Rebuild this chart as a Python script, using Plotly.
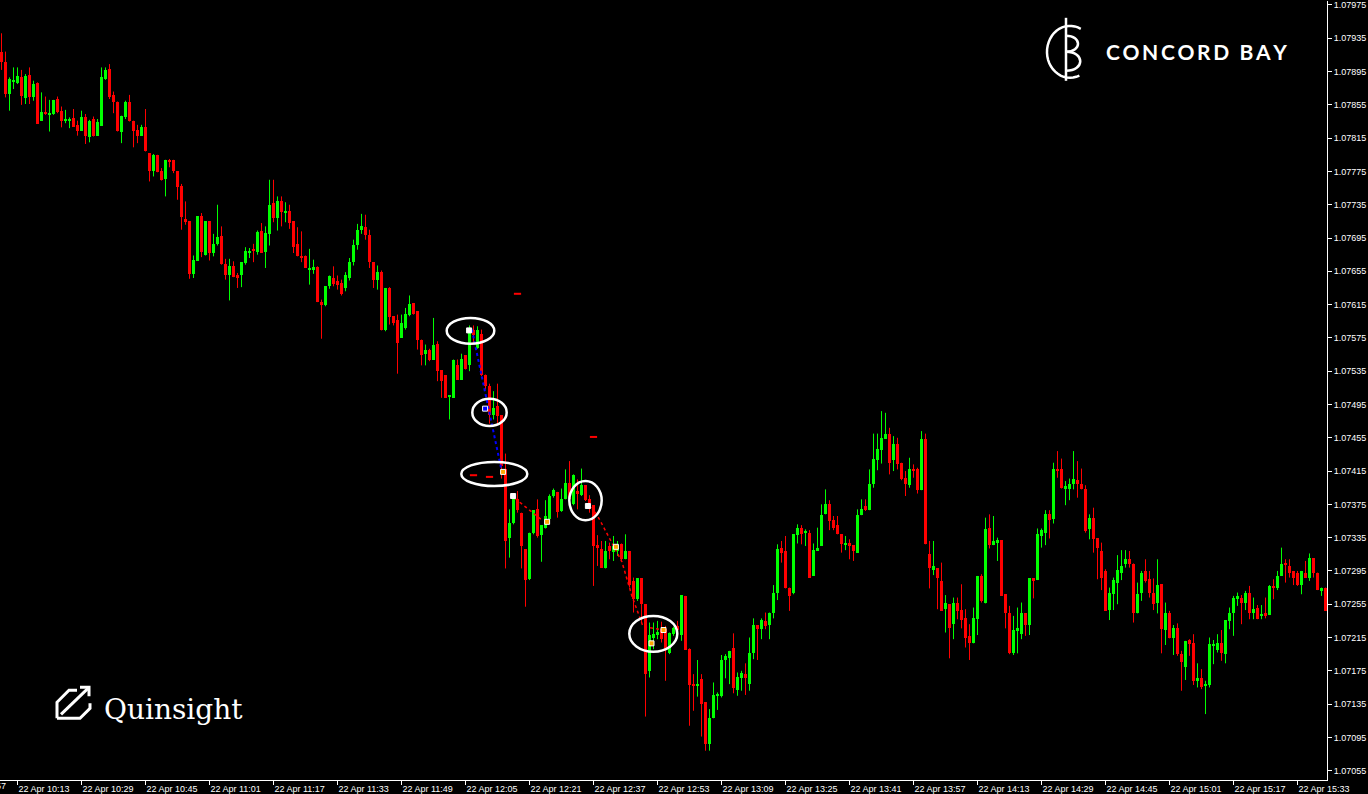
import plotly.graph_objects as go
import math

# ---------------- DATA: EURUSD M1, 22 Apr ----------------
open_ = [
    1.07918, 1.07906, 1.07868, 1.07883, 1.07881, 1.07889, 1.07863, 1.07891, 1.07865, 1.07881,
    1.07836, 1.07847, 1.07844, 1.07844, 1.07862, 1.07848, 1.07836, 1.07836, 1.07839, 1.07831,
    1.07824, 1.07840, 1.07816, 1.07838, 1.07818, 1.07830, 1.07886, 1.07898, 1.07867, 1.07858,
    1.07823, 1.07840, 1.07858, 1.07836, 1.07825, 1.07818, 1.07828, 1.07797, 1.07775, 1.07795,
    1.07775, 1.07766, 1.07789, 1.07789, 1.07775, 1.07757, 1.07718, 1.07715, 1.07652, 1.07668,
    1.07721, 1.07675, 1.07715, 1.07677, 1.07688, 1.07697, 1.07664, 1.07650, 1.07661, 1.07650,
    1.07650, 1.07665, 1.07678, 1.07682, 1.07678, 1.07704, 1.07678, 1.07700, 1.07737, 1.07719,
    1.07739, 1.07725, 1.07728, 1.07715, 1.07688, 1.07673, 1.07673, 1.07657, 1.07657, 1.07660,
    1.07618, 1.07614, 1.07637, 1.07647, 1.07643, 1.07641, 1.07635, 1.07647, 1.07666, 1.07687,
    1.07705, 1.07708, 1.07699, 1.07666, 1.07645, 1.07654, 1.07584, 1.07635, 1.07601, 1.07597,
    1.07575, 1.07587, 1.07603, 1.07617, 1.07607, 1.07573, 1.07556, 1.07561, 1.07549, 1.07568,
    1.07536, 1.07530, 1.07505, 1.07503, 1.07543, 1.07525, 1.07554, 1.07542, 1.07584, 1.07563,
    1.07580, 1.07530, 1.07517, 1.07482, 1.07493, 1.07482, 1.07418, 1.07334, 1.07353, 1.07381,
    1.07365, 1.07321, 1.07285, 1.07341, 1.07369, 1.07338, 1.07347, 1.07358, 1.07385, 1.07390,
    1.07367, 1.07382, 1.07401, 1.07375, 1.07391, 1.07386, 1.07398, 1.07381, 1.07374, 1.07326,
    1.07321, 1.07299, 1.07325, 1.07318, 1.07319, 1.07327, 1.07309, 1.07319, 1.07283, 1.07261,
    1.07286, 1.07255, 1.07175, 1.07215, 1.07218, 1.07225, 1.07225, 1.07197, 1.07219, 1.07229,
    1.07218, 1.07265, 1.07201, 1.07159, 1.07157, 1.07165, 1.07137, 1.07087, 1.07118, 1.07145,
    1.07145, 1.07188, 1.07190, 1.07203, 1.07152, 1.07166, 1.07171, 1.07159, 1.07196, 1.07230,
    1.07225, 1.07235, 1.07230, 1.07244, 1.07268, 1.07322, 1.07319, 1.07275, 1.07268, 1.07338,
    1.07347, 1.07341, 1.07341, 1.07289, 1.07319, 1.07325, 1.07363, 1.07376, 1.07356, 1.07350,
    1.07339, 1.07327, 1.07328, 1.07326, 1.07317, 1.07362, 1.07373, 1.07368, 1.07399, 1.07428,
    1.07440, 1.07454, 1.07460, 1.07428, 1.07448, 1.07425, 1.07407, 1.07398, 1.07418, 1.07418,
    1.07392, 1.07453, 1.07315, 1.07296, 1.07298, 1.07283, 1.07249, 1.07255, 1.07231, 1.07256,
    1.07248, 1.07238, 1.07217, 1.07209, 1.07237, 1.07289, 1.07257, 1.07346, 1.07326, 1.07328,
    1.07332, 1.07267, 1.07245, 1.07197, 1.07223, 1.07219, 1.07244, 1.07230, 1.07286, 1.07284,
    1.07337, 1.07341, 1.07364, 1.07358, 1.07418, 1.07417, 1.07394, 1.07394, 1.07399, 1.07404,
    1.07400, 1.07394, 1.07345, 1.07359, 1.07334, 1.07319, 1.07295, 1.07248, 1.07267, 1.07281,
    1.07293, 1.07303, 1.07309, 1.07303, 1.07245, 1.07268, 1.07295, 1.07285, 1.07268, 1.07256,
    1.07279, 1.07224, 1.07245, 1.07215, 1.07226, 1.07195, 1.07179, 1.07212, 1.07208, 1.07163,
    1.07166, 1.07157, 1.07158, 1.07205, 1.07200, 1.07208, 1.07195, 1.07235, 1.07244, 1.07261,
    1.07263, 1.07256, 1.07268, 1.07244, 1.07251, 1.07241, 1.07244, 1.07242, 1.07277, 1.07274,
    1.07289, 1.07305, 1.07301, 1.07295, 1.07293, 1.07278, 1.07293, 1.07287, 1.07310, 1.07293,
    1.07271, 1.07275,
]
high = [
    1.07941, 1.07919, 1.07888, 1.07900, 1.07900, 1.07897, 1.07892, 1.07900, 1.07884, 1.07882,
    1.07870, 1.07865, 1.07861, 1.07861, 1.07865, 1.07853, 1.07849, 1.07840, 1.07850, 1.07836,
    1.07848, 1.07844, 1.07837, 1.07841, 1.07838, 1.07900, 1.07900, 1.07904, 1.07871, 1.07859,
    1.07842, 1.07860, 1.07867, 1.07836, 1.07831, 1.07831, 1.07850, 1.07797, 1.07796, 1.07795,
    1.07779, 1.07789, 1.07790, 1.07789, 1.07775, 1.07760, 1.07739, 1.07715, 1.07674, 1.07721,
    1.07725, 1.07715, 1.07715, 1.07700, 1.07735, 1.07709, 1.07670, 1.07670, 1.07667, 1.07653,
    1.07666, 1.07684, 1.07683, 1.07688, 1.07704, 1.07713, 1.07709, 1.07765, 1.07765, 1.07745,
    1.07745, 1.07738, 1.07735, 1.07715, 1.07708, 1.07703, 1.07674, 1.07682, 1.07669, 1.07661,
    1.07621, 1.07637, 1.07650, 1.07661, 1.07650, 1.07645, 1.07654, 1.07671, 1.07693, 1.07712,
    1.07724, 1.07723, 1.07705, 1.07666, 1.07662, 1.07656, 1.07635, 1.07636, 1.07601, 1.07603,
    1.07603, 1.07611, 1.07626, 1.07617, 1.07607, 1.07573, 1.07567, 1.07562, 1.07599, 1.07571,
    1.07536, 1.07530, 1.07506, 1.07549, 1.07549, 1.07556, 1.07554, 1.07590, 1.07590, 1.07589,
    1.07585, 1.07531, 1.07520, 1.07511, 1.07520, 1.07482, 1.07436, 1.07369, 1.07386, 1.07391,
    1.07365, 1.07321, 1.07341, 1.07368, 1.07381, 1.07350, 1.07380, 1.07387, 1.07394, 1.07390,
    1.07394, 1.07417, 1.07427, 1.07411, 1.07405, 1.07418, 1.07398, 1.07386, 1.07374, 1.07338,
    1.07331, 1.07331, 1.07329, 1.07337, 1.07331, 1.07328, 1.07339, 1.07319, 1.07287, 1.07286,
    1.07286, 1.07255, 1.07233, 1.07233, 1.07235, 1.07234, 1.07229, 1.07221, 1.07228, 1.07235,
    1.07266, 1.07265, 1.07202, 1.07171, 1.07188, 1.07171, 1.07137, 1.07129, 1.07161, 1.07149,
    1.07194, 1.07195, 1.07199, 1.07220, 1.07173, 1.07175, 1.07184, 1.07215, 1.07238, 1.07230,
    1.07238, 1.07245, 1.07245, 1.07278, 1.07327, 1.07331, 1.07337, 1.07275, 1.07339, 1.07351,
    1.07350, 1.07345, 1.07344, 1.07328, 1.07347, 1.07375, 1.07393, 1.07380, 1.07361, 1.07361,
    1.07339, 1.07337, 1.07333, 1.07326, 1.07369, 1.07381, 1.07381, 1.07417, 1.07460, 1.07460,
    1.07487, 1.07485, 1.07467, 1.07457, 1.07455, 1.07425, 1.07415, 1.07431, 1.07423, 1.07419,
    1.07463, 1.07460, 1.07331, 1.07331, 1.07298, 1.07305, 1.07266, 1.07255, 1.07263, 1.07263,
    1.07279, 1.07249, 1.07231, 1.07251, 1.07289, 1.07291, 1.07359, 1.07363, 1.07361, 1.07335,
    1.07332, 1.07267, 1.07253, 1.07241, 1.07251, 1.07257, 1.07244, 1.07286, 1.07286, 1.07346,
    1.07346, 1.07368, 1.07368, 1.07425, 1.07439, 1.07430, 1.07403, 1.07406, 1.07439, 1.07427,
    1.07418, 1.07398, 1.07363, 1.07371, 1.07334, 1.07329, 1.07297, 1.07275, 1.07287, 1.07314,
    1.07320, 1.07320, 1.07319, 1.07304, 1.07281, 1.07295, 1.07309, 1.07295, 1.07286, 1.07309,
    1.07279, 1.07257, 1.07247, 1.07230, 1.07232, 1.07199, 1.07211, 1.07213, 1.07219, 1.07184,
    1.07177, 1.07163, 1.07215, 1.07212, 1.07219, 1.07224, 1.07236, 1.07251, 1.07265, 1.07269,
    1.07266, 1.07271, 1.07277, 1.07263, 1.07254, 1.07254, 1.07263, 1.07278, 1.07285, 1.07295,
    1.07323, 1.07309, 1.07309, 1.07295, 1.07295, 1.07295, 1.07307, 1.07316, 1.07310, 1.07293,
    1.07275, 1.07275,
]
low = [
    1.07897, 1.07864, 1.07848, 1.07874, 1.07880, 1.07855, 1.07856, 1.07856, 1.07860, 1.07832,
    1.07836, 1.07843, 1.07823, 1.07843, 1.07845, 1.07828, 1.07833, 1.07827, 1.07829, 1.07818,
    1.07824, 1.07808, 1.07810, 1.07817, 1.07818, 1.07830, 1.07885, 1.07862, 1.07845, 1.07823,
    1.07809, 1.07838, 1.07835, 1.07804, 1.07809, 1.07818, 1.07799, 1.07763, 1.07769, 1.07774,
    1.07764, 1.07745, 1.07780, 1.07773, 1.07741, 1.07705, 1.07711, 1.07646, 1.07647, 1.07668,
    1.07672, 1.07674, 1.07668, 1.07673, 1.07686, 1.07663, 1.07645, 1.07620, 1.07648, 1.07635,
    1.07636, 1.07663, 1.07671, 1.07666, 1.07675, 1.07677, 1.07659, 1.07686, 1.07714, 1.07704,
    1.07709, 1.07714, 1.07706, 1.07677, 1.07673, 1.07666, 1.07659, 1.07639, 1.07652, 1.07618,
    1.07574, 1.07613, 1.07634, 1.07637, 1.07633, 1.07626, 1.07631, 1.07644, 1.07662, 1.07681,
    1.07700, 1.07693, 1.07659, 1.07635, 1.07633, 1.07584, 1.07583, 1.07591, 1.07590, 1.07532,
    1.07575, 1.07585, 1.07601, 1.07603, 1.07561, 1.07542, 1.07542, 1.07547, 1.07549, 1.07523,
    1.07503, 1.07503, 1.07477, 1.07503, 1.07525, 1.07525, 1.07537, 1.07535, 1.07568, 1.07562,
    1.07529, 1.07513, 1.07472, 1.07477, 1.07472, 1.07406, 1.07298, 1.07311, 1.07351, 1.07365,
    1.07298, 1.07252, 1.07284, 1.07339, 1.07335, 1.07306, 1.07346, 1.07357, 1.07383, 1.07359,
    1.07366, 1.07381, 1.07381, 1.07374, 1.07369, 1.07385, 1.07379, 1.07365, 1.07277, 1.07301,
    1.07299, 1.07298, 1.07309, 1.07307, 1.07313, 1.07307, 1.07309, 1.07275, 1.07245, 1.07259,
    1.07233, 1.07120, 1.07167, 1.07201, 1.07213, 1.07209, 1.07163, 1.07195, 1.07217, 1.07217,
    1.07211, 1.07200, 1.07109, 1.07127, 1.07144, 1.07096, 1.07079, 1.07079, 1.07118, 1.07128,
    1.07143, 1.07166, 1.07159, 1.07148, 1.07145, 1.07151, 1.07146, 1.07151, 1.07189, 1.07188,
    1.07213, 1.07225, 1.07213, 1.07238, 1.07260, 1.07305, 1.07274, 1.07247, 1.07267, 1.07328,
    1.07327, 1.07325, 1.07287, 1.07289, 1.07319, 1.07325, 1.07363, 1.07344, 1.07344, 1.07339,
    1.07317, 1.07320, 1.07309, 1.07307, 1.07317, 1.07362, 1.07367, 1.07368, 1.07395, 1.07416,
    1.07424, 1.07454, 1.07411, 1.07415, 1.07417, 1.07404, 1.07385, 1.07395, 1.07407, 1.07388,
    1.07392, 1.07327, 1.07274, 1.07290, 1.07249, 1.07247, 1.07221, 1.07190, 1.07213, 1.07237,
    1.07226, 1.07203, 1.07188, 1.07208, 1.07218, 1.07257, 1.07256, 1.07322, 1.07326, 1.07307,
    1.07265, 1.07226, 1.07195, 1.07194, 1.07196, 1.07213, 1.07217, 1.07218, 1.07262, 1.07284,
    1.07323, 1.07326, 1.07334, 1.07352, 1.07407, 1.07394, 1.07374, 1.07380, 1.07393, 1.07383,
    1.07393, 1.07341, 1.07333, 1.07317, 1.07285, 1.07272, 1.07247, 1.07236, 1.07248, 1.07255,
    1.07284, 1.07299, 1.07299, 1.07233, 1.07244, 1.07259, 1.07281, 1.07263, 1.07248, 1.07244,
    1.07196, 1.07206, 1.07214, 1.07194, 1.07193, 1.07151, 1.07164, 1.07193, 1.07158, 1.07155,
    1.07153, 1.07123, 1.07155, 1.07183, 1.07197, 1.07187, 1.07184, 1.07225, 1.07217, 1.07253,
    1.07231, 1.07248, 1.07237, 1.07237, 1.07237, 1.07237, 1.07238, 1.07242, 1.07261, 1.07272,
    1.07289, 1.07281, 1.07287, 1.07278, 1.07277, 1.07267, 1.07287, 1.07283, 1.07287, 1.07272,
    1.07265, 1.07247,
]
close = [
    1.07906, 1.07868, 1.07886, 1.07884, 1.07890, 1.07866, 1.07890, 1.07865, 1.07880, 1.07832,
    1.07846, 1.07844, 1.07845, 1.07861, 1.07847, 1.07836, 1.07838, 1.07838, 1.07829, 1.07824,
    1.07840, 1.07817, 1.07836, 1.07817, 1.07835, 1.07888, 1.07897, 1.07865, 1.07858, 1.07824,
    1.07842, 1.07858, 1.07836, 1.07824, 1.07818, 1.07829, 1.07799, 1.07775, 1.07795, 1.07774,
    1.07765, 1.07789, 1.07786, 1.07775, 1.07756, 1.07720, 1.07714, 1.07652, 1.07669, 1.07721,
    1.07678, 1.07715, 1.07677, 1.07688, 1.07696, 1.07664, 1.07650, 1.07661, 1.07648, 1.07647,
    1.07666, 1.07679, 1.07680, 1.07679, 1.07702, 1.07677, 1.07701, 1.07735, 1.07719, 1.07739,
    1.07726, 1.07728, 1.07713, 1.07684, 1.07673, 1.07671, 1.07659, 1.07659, 1.07660, 1.07618,
    1.07614, 1.07637, 1.07649, 1.07640, 1.07638, 1.07628, 1.07650, 1.07666, 1.07687, 1.07705,
    1.07710, 1.07699, 1.07666, 1.07645, 1.07654, 1.07584, 1.07635, 1.07600, 1.07593, 1.07569,
    1.07593, 1.07604, 1.07616, 1.07604, 1.07573, 1.07555, 1.07561, 1.07548, 1.07567, 1.07535,
    1.07523, 1.07503, 1.07506, 1.07548, 1.07525, 1.07550, 1.07538, 1.07585, 1.07579, 1.07584,
    1.07530, 1.07517, 1.07482, 1.07491, 1.07481, 1.07421, 1.07331, 1.07353, 1.07381, 1.07368,
    1.07325, 1.07284, 1.07341, 1.07368, 1.07337, 1.07350, 1.07361, 1.07385, 1.07392, 1.07366,
    1.07381, 1.07401, 1.07381, 1.07410, 1.07387, 1.07398, 1.07380, 1.07369, 1.07325, 1.07322,
    1.07299, 1.07319, 1.07319, 1.07325, 1.07326, 1.07309, 1.07319, 1.07278, 1.07261, 1.07286,
    1.07255, 1.07171, 1.07218, 1.07219, 1.07222, 1.07213, 1.07201, 1.07220, 1.07226, 1.07224,
    1.07266, 1.07200, 1.07158, 1.07157, 1.07159, 1.07135, 1.07087, 1.07118, 1.07146, 1.07147,
    1.07188, 1.07193, 1.07199, 1.07154, 1.07167, 1.07172, 1.07166, 1.07197, 1.07230, 1.07225,
    1.07236, 1.07229, 1.07245, 1.07269, 1.07321, 1.07317, 1.07274, 1.07265, 1.07339, 1.07347,
    1.07339, 1.07343, 1.07287, 1.07320, 1.07323, 1.07362, 1.07375, 1.07355, 1.07347, 1.07339,
    1.07327, 1.07328, 1.07325, 1.07319, 1.07362, 1.07370, 1.07368, 1.07399, 1.07430, 1.07442,
    1.07455, 1.07460, 1.07425, 1.07448, 1.07423, 1.07405, 1.07399, 1.07418, 1.07416, 1.07392,
    1.07453, 1.07327, 1.07298, 1.07301, 1.07286, 1.07247, 1.07256, 1.07226, 1.07256, 1.07247,
    1.07236, 1.07214, 1.07208, 1.07239, 1.07289, 1.07259, 1.07345, 1.07326, 1.07331, 1.07332,
    1.07265, 1.07245, 1.07197, 1.07224, 1.07226, 1.07244, 1.07230, 1.07286, 1.07284, 1.07339,
    1.07344, 1.07364, 1.07356, 1.07418, 1.07416, 1.07395, 1.07397, 1.07400, 1.07405, 1.07399,
    1.07394, 1.07343, 1.07359, 1.07333, 1.07323, 1.07287, 1.07247, 1.07268, 1.07284, 1.07296,
    1.07301, 1.07309, 1.07303, 1.07244, 1.07267, 1.07293, 1.07283, 1.07268, 1.07255, 1.07278,
    1.07225, 1.07245, 1.07214, 1.07226, 1.07195, 1.07185, 1.07211, 1.07207, 1.07163, 1.07166,
    1.07155, 1.07159, 1.07207, 1.07206, 1.07208, 1.07196, 1.07236, 1.07244, 1.07263, 1.07265,
    1.07256, 1.07269, 1.07244, 1.07249, 1.07237, 1.07242, 1.07241, 1.07277, 1.07274, 1.07289,
    1.07303, 1.07302, 1.07293, 1.07287, 1.07278, 1.07295, 1.07287, 1.07310, 1.07292, 1.07272,
    1.07275, 1.07247,
]

time_tick_idx = [4, 20, 36, 52, 68, 84, 100, 116, 132, 148, 164,
                 180, 196, 212, 228, 244, 260, 276, 292, 308, 324]
time_tick_labels = [
    "22 Apr 10:13", "22 Apr 10:29", "22 Apr 10:45", "22 Apr 11:01", "22 Apr 11:17",
    "22 Apr 11:33", "22 Apr 11:49", "22 Apr 12:05", "22 Apr 12:21", "22 Apr 12:37",
    "22 Apr 12:53", "22 Apr 13:09", "22 Apr 13:25", "22 Apr 13:41", "22 Apr 13:57",
    "22 Apr 14:13", "22 Apr 14:29", "22 Apr 14:45", "22 Apr 15:01", "22 Apr 15:17",
    "22 Apr 15:33",
]
prev_time_label = "22 Apr 09:57"

price_ticks = [1.07055, 1.07095, 1.07135, 1.07175, 1.07215, 1.07255, 1.07295, 1.07335,
               1.07375, 1.07415, 1.07455, 1.07495, 1.07535, 1.07575, 1.07615, 1.07655,
               1.07695, 1.07735, 1.07775, 1.07815, 1.07855, 1.07895, 1.07935, 1.07975]
price_tick_labels = ["1.07055", "1.07095", "1.07135", "1.07175", "1.07215", "1.07255",
                     "1.07295", "1.07335", "1.07375", "1.07415", "1.07455", "1.07495",
                     "1.07535", "1.07575", "1.07615", "1.07655", "1.07695", "1.07735",
                     "1.07775", "1.07815", "1.07855", "1.07895", "1.07935", "1.07975"]

# trade overlay lines (candle index, price)
blue_path_x = [117.6, 121.0, 125.1]
blue_path_y = [1.07585, 1.07508, 1.07414]
red_path1_x = [128.4, 135.4]
red_path1_y = [1.07382, 1.07355]
red_path2_x = [147.6, 149.6, 155.1, 157.6, 160.4, 165.4]
red_path2_y = [1.07372, 1.07356, 1.07306, 1.07265, 1.07228, 1.07224]
# short red level dashes: (x start, x end, price)
level_x0 = [128.1, 147.1, 117.1, 121.1]
level_x1 = [129.9, 148.9, 118.9, 122.9]
level_y = [1.07628, 1.07456, 1.07410, 1.07408]
# highlight ellipses (x0, x1, y0, y1)
ell_x0 = [111.3, 117.7, 114.95, 141.95, 156.95]
ell_x1 = [123.2, 126.3, 131.45, 150.05, 168.95]
ell_y0 = [1.07568, 1.07469, 1.07397, 1.07356, 1.07198]
ell_y1 = [1.07599, 1.07502, 1.07426, 1.07403, 1.07241]
# trade arrows
mark_x = [116.9, 120.9, 125.4, 127.9, 136.4, 146.6, 153.6, 162.5, 165.5]
mark_y = [1.07584, 1.07490, 1.07414, 1.07385, 1.07354, 1.07373, 1.07324, 1.07208, 1.07224]
mark_c = ["#FFFFFF", "#0000FF", "#FFA500", "#FFFFFF", "#FFA500", "#FFFFFF",
          "#FFA500", "#FFA500", "#FFA500"]

GREEN = "#00FF00"
RED = "#FF0000"
MIN_BODY = 0.000012

fig = go.Figure()

for col, up in ((GREEN, True), (RED, False)):
    wx, wy, bx, bb, bh = [], [], [], [], []
    for i in range(len(open_)):
        o, h, l, c = open_[i], high[i], low[i], close[i]
        if (c >= o) != up:
            continue
        wx += [i, i, None]
        wy += [l, h, None]
        bx.append(i)
        bb.append(min(o, c))
        bh.append(max(abs(c - o), MIN_BODY))
    fig.add_trace(go.Scatter(x=wx, y=wy, mode="lines",
                             line=dict(color=col, width=1), hoverinfo="skip"))
    fig.add_trace(go.Bar(x=bx, y=bh, base=bb, width=0.75,
                         marker=dict(color=col, line=dict(width=0)), hoverinfo="skip"))

# overlays
fig.add_trace(go.Scatter(x=blue_path_x, y=blue_path_y, mode="lines",
                         line=dict(color="#0000FF", width=2, dash="dot"), hoverinfo="skip"))
for px_, py_ in ((red_path1_x, red_path1_y), (red_path2_x, red_path2_y)):
    fig.add_trace(go.Scatter(x=px_, y=py_, mode="lines",
                             line=dict(color=RED, width=1.5, dash="dot"), hoverinfo="skip"))
lx, ly = [], []
for a, b, y in zip(level_x0, level_x1, level_y):
    lx += [a, b, None]
    ly += [y, y, None]
fig.add_trace(go.Scatter(x=lx, y=ly, mode="lines", line=dict(color=RED, width=2),
                         hoverinfo="skip"))
fig.add_trace(go.Scatter(x=mark_x, y=mark_y, mode="markers",
                         marker=dict(symbol="square", size=5, color=mark_c,
                                     line=dict(color="#FFFFFF", width=1)),
                         hoverinfo="skip"))

shapes = []
for a, b, c, d in zip(ell_x0, ell_x1, ell_y0, ell_y1):
    shapes.append(dict(type="circle", xref="x", yref="y", x0=a, x1=b, y0=c, y1=d,
                       line=dict(color="#FFFFFF", width=2.5), layer="above"))

PLOT_W, PLOT_H = 1327, 782


def paper_x(px):
    return px / PLOT_W


def paper_y(py):
    return (PLOT_H - py) / PLOT_H


# Concord Bay logo mark
arc_pts = []
for deg in range(62, 300, 8):
    a = math.radians(deg)
    arc_pts.append((4 + 23 * math.cos(a), 26 * math.sin(a)))
arc_path = "M " + " L ".join(f"{x:.1f},{y:.1f}" for x, y in arc_pts)
logo_paths = [
    arc_path,
    "M 0,34 L 0,-29",
    "M 0,16 C 16,16 16,0 0,0",
    "M 0,0 C 19,0 19,-19 0,-19",
]
for p in logo_paths:
    shapes.append(dict(type="path", xref="paper", yref="paper", xsizemode="pixel",
                       ysizemode="pixel", xanchor=paper_x(1066), yanchor=paper_y(51),
                       path=p, line=dict(color="#FFFFFF", width=2.5), layer="above"))
# Quinsight icon
q_paths = [
    "M -17,-16 L -17,0 L -5,12 L 3,12",
    "M 16,-1 L 16,-6 L 6,-16 L -17,-16",
    "M -13,-12 L 14,14",
    "M 6,15 L 15,15 L 15,6",
]
for p in q_paths:
    shapes.append(dict(type="path", xref="paper", yref="paper", xsizemode="pixel",
                       ysizemode="pixel", xanchor=paper_x(74), yanchor=paper_y(704),
                       path=p, line=dict(color="#FFFFFF", width=3), layer="above"))

annotations = [
    dict(text="C\u2009O\u2009N\u2009C\u2009O\u2009R\u2009D\u2002B\u2009A\u2009Y",
         xref="paper", yref="paper", x=paper_x(1104), y=paper_y(51),
         xanchor="left", yanchor="middle", showarrow=False,
         font=dict(family="Lato", size=21, color="#FFFFFF", weight="bold")),
    dict(text="Quinsight", xref="paper", yref="paper", x=paper_x(102), y=paper_y(711),
         xanchor="left", yanchor="middle", showarrow=False,
         font=dict(family="DejaVu Serif", size=28, color="#FFFFFF")),
    dict(text=prev_time_label, xref="paper", yref="paper", x=paper_x(-47), y=paper_y(788),
         xanchor="left", yanchor="middle", showarrow=False,
         font=dict(family="Liberation Sans", size=9, color="#FFFFFF")),
]

fig.update_layout(
    width=1368, height=794,
    margin=dict(l=0, r=1368 - PLOT_W, t=0, b=794 - PLOT_H),
    paper_bgcolor="#000000", plot_bgcolor="#000000",
    showlegend=False, barmode="overlay", bargap=0,
    shapes=shapes, annotations=annotations,
    xaxis=dict(range=[-0.375, 331.375], showgrid=False, zeroline=False,
               showline=True, linecolor="#FFFFFF", linewidth=1,
               ticks="outside", ticklen=4, tickcolor="#FFFFFF", tickwidth=1,
               tickvals=time_tick_idx, ticktext=time_tick_labels,
               ticklabelposition="outside right", ticklabeloverflow="allow",
               tickfont=dict(family="Liberation Sans", size=9, color="#FFFFFF"),
               fixedrange=True),
    yaxis=dict(range=[1.070438, 1.079798], side="right", showgrid=False,
               zeroline=False, showline=True, linecolor="#FFFFFF", linewidth=1,
               ticks="outside", ticklen=4, tickcolor="#FFFFFF", tickwidth=1,
               tickvals=price_ticks, ticktext=price_tick_labels,
               ticklabeloverflow="allow",
               tickfont=dict(family="Liberation Sans", size=9, color="#FFFFFF"),
               fixedrange=True),
)

fig.write_html("out.html", config={"displayModeBar": False},
               post_script="document.body.style.margin='0';")
